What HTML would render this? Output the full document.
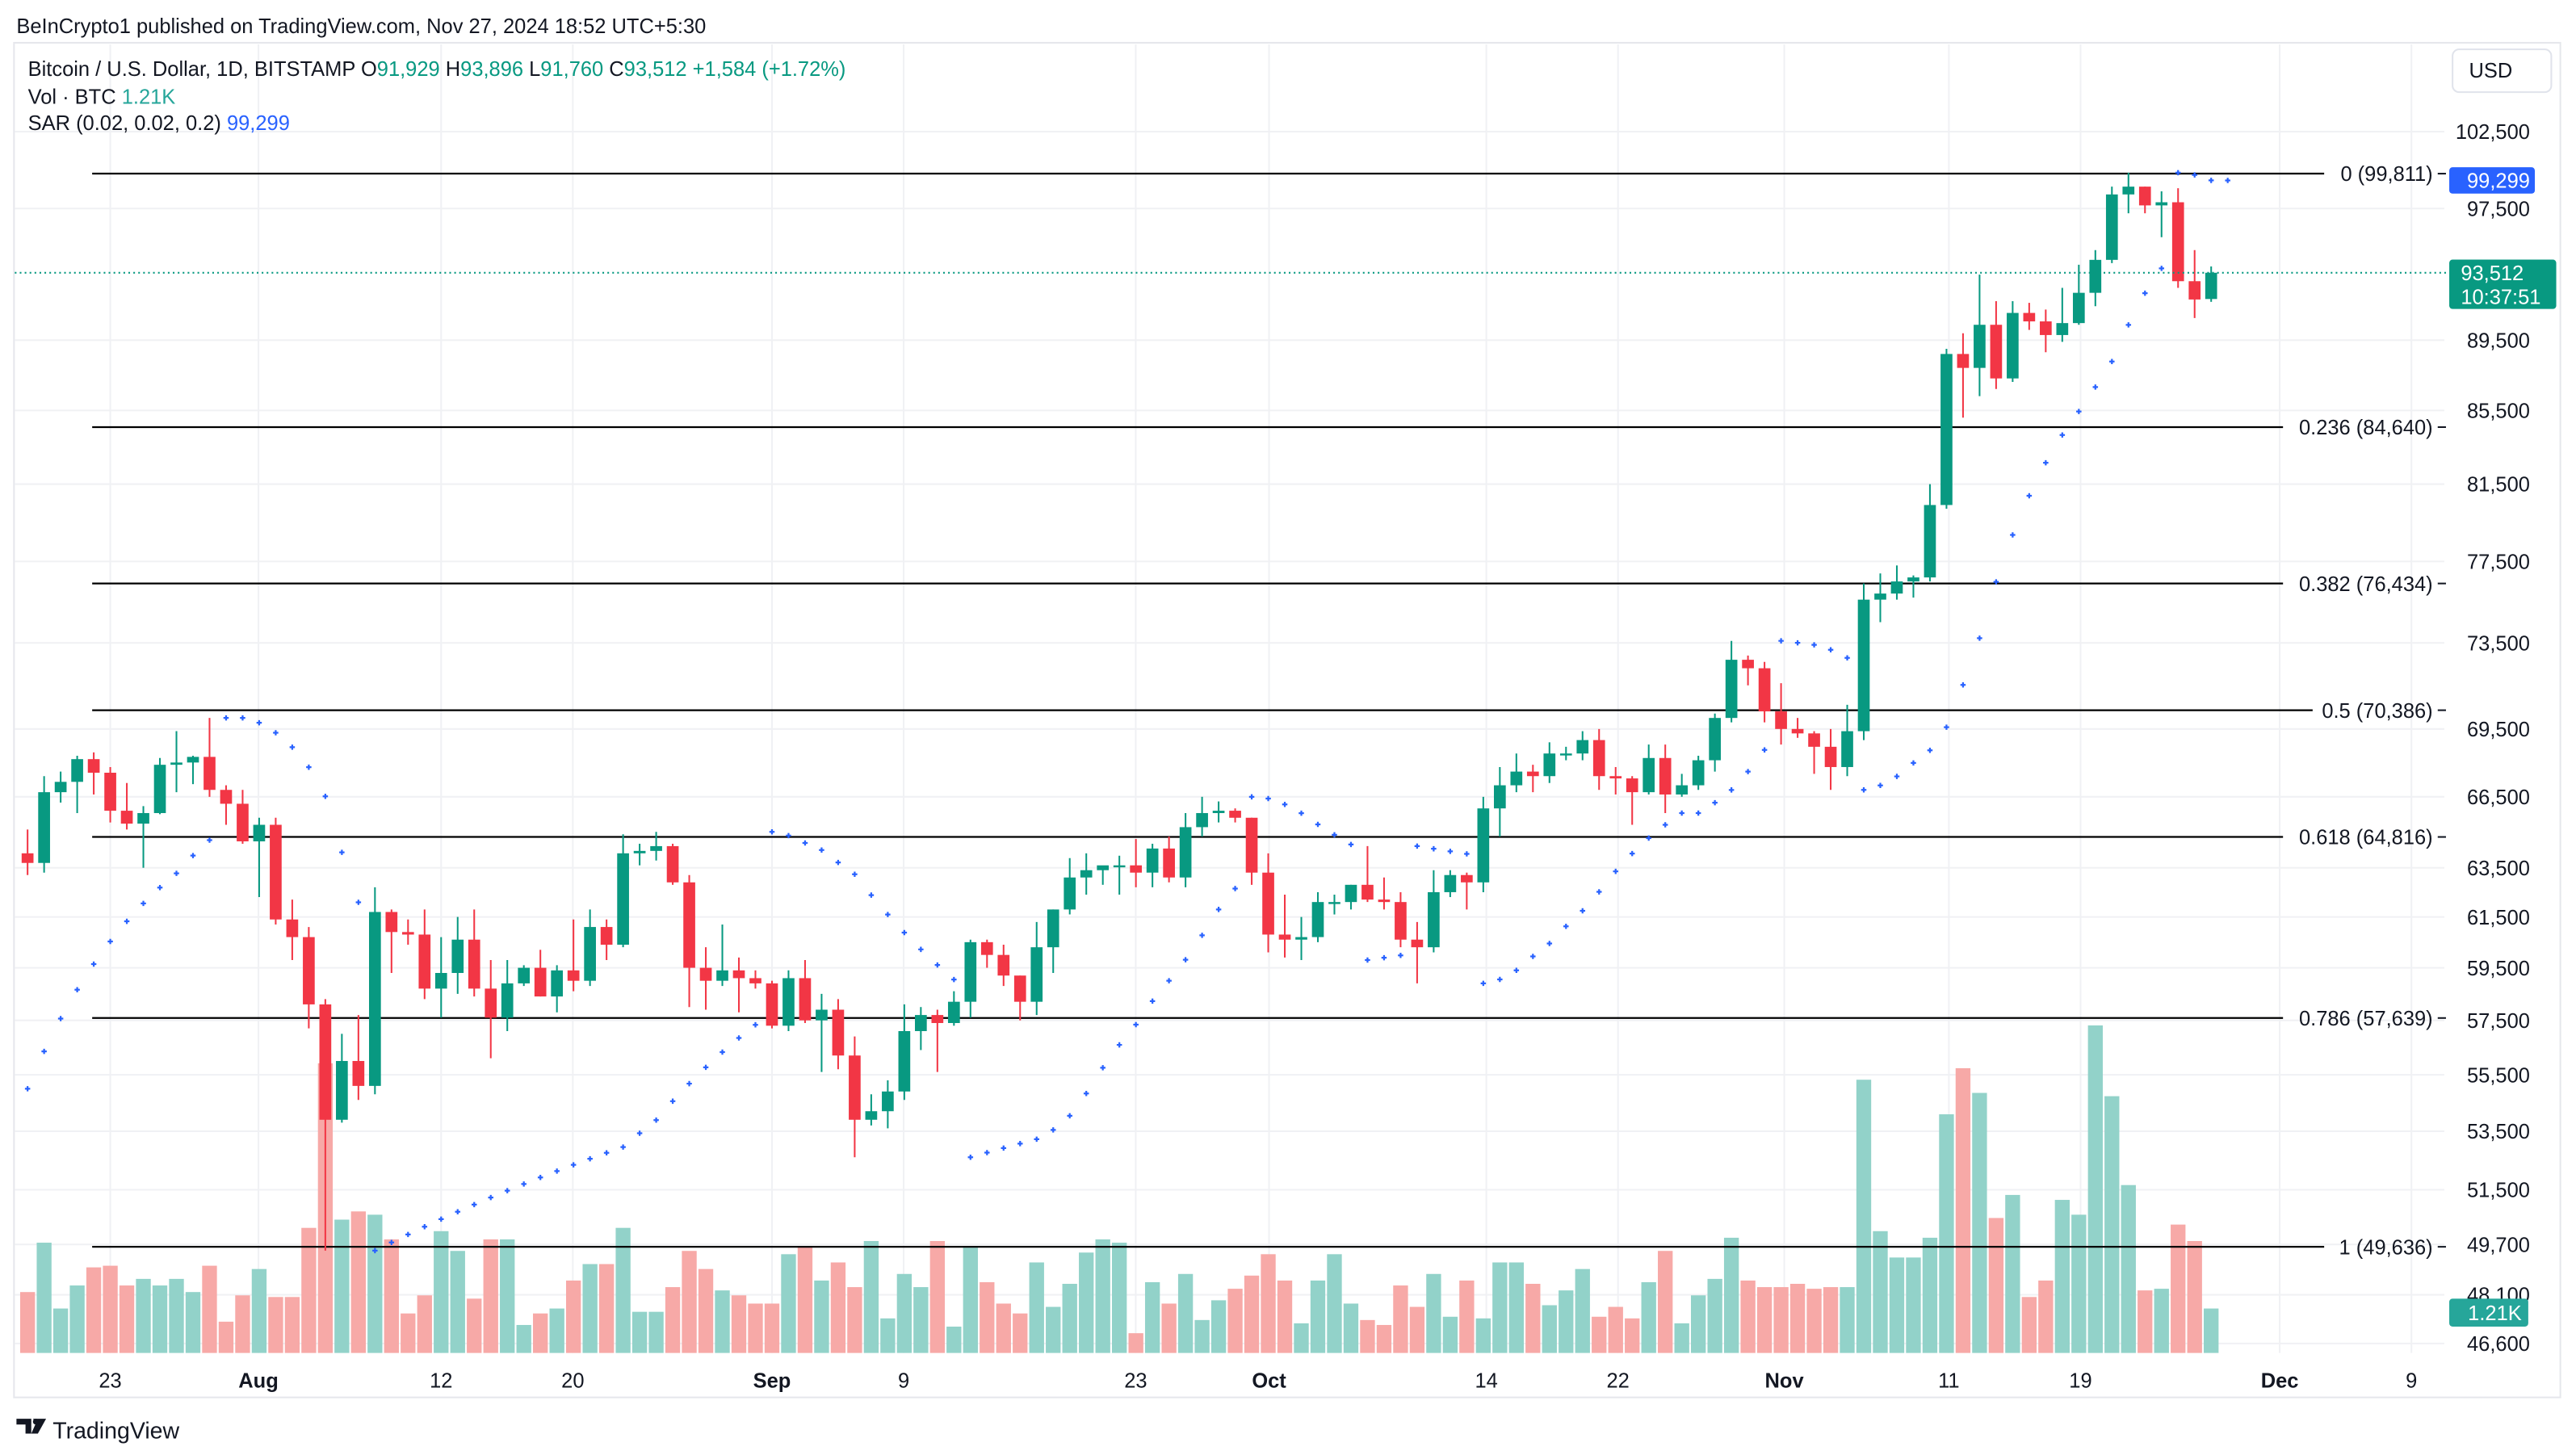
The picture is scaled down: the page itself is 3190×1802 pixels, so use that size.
<!DOCTYPE html>
<html><head><meta charset="utf-8">
<style>
html,body{margin:0;padding:0;background:#fff;}
svg{display:block;}
text{font-family:"Liberation Sans",sans-serif;}
</style></head>
<body>
<svg id="c" width="3190" height="1802" viewBox="0 0 1565 884" preserveAspectRatio="none" xmlns="http://www.w3.org/2000/svg">
<rect x="0" y="0" width="1565" height="884" fill="#fff"/>
<rect x="8.5" y="26" width="1547" height="823" fill="none" stroke="#e6e7ec" stroke-width="1"/>
<g id="grid"></g>
<g id="vol"></g>
<g id="fib"></g>
<g id="candles"></g>
<g id="sar"></g>
<g id="axis"></g>
<text x="10" y="20" font-size="12.5" fill="#131722">BeInCrypto1 published on TradingView.com, Nov 27, 2024 18:52 UTC+5:30</text>
<text x="17" y="46" font-size="12.5" fill="#131722">Bitcoin / U.S. Dollar, 1D, BITSTAMP  <tspan>O</tspan><tspan fill="#089981">91,929</tspan>  H<tspan fill="#089981">93,896</tspan>  L<tspan fill="#089981">91,760</tspan>  C<tspan fill="#089981">93,512</tspan>  <tspan fill="#089981">+1,584 (+1.72%)</tspan></text>
<text x="17" y="63" font-size="12.5" fill="#131722">Vol · BTC  <tspan fill="#26a69a">1.21K</tspan></text>
<text x="17" y="79" font-size="12.5" fill="#131722">SAR (0.02, 0.02, 0.2)  <tspan fill="#2962ff">99,299</tspan></text>
<rect x="1490" y="30" width="60" height="26" rx="4" fill="#fff" stroke="#e0e3eb"/>
<text x="1500" y="47" font-size="12.5" fill="#131722">USD</text>
<g transform="translate(10,862)">
<path d="M0 0h9v9h-3.5v-5.5h-5.5z M10 0h4l-1.5 2.5 M13 0h5l-5 9h-4z" fill="#131722"/>
<rect x="10" y="0" width="3.5" height="3.5" rx="1.7" fill="#131722"/>
</g>
<text x="32" y="874" font-size="14" fill="#131722">TradingView</text>
</svg>
<script>
const NS="http://www.w3.org/2000/svg";
function el(p,t,a,txt){const e=document.createElementNS(NS,t);for(const k in a)e.setAttribute(k,a[k]);if(txt!==undefined)e.textContent=txt;document.getElementById(p).appendChild(e);return e;}
const Y=p=>80+(Math.log(102500)-Math.log(p))*934;
const X=i=>67+(i-5)*10.05;
const d=[
[64100,65100,63200,63700],[63700,67400,63300,66700],[66700,67600,66250,67150],[67150,68300,65800,68150],[68150,68450,66600,67550],
[67550,67800,65400,65900],[65900,67100,65100,65350],[65350,66100,63500,65800],[65800,68200,65750,67900],[67900,69400,66700,68000],
[68000,68300,67050,68250],[68250,70000,66500,66800],[66800,67000,65300,66200],[66200,66800,64500,64600],
[64600,65600,62300,65300],[65300,65600,61200,61400],[61400,62200,59800,60700],[60700,61100,57200,58100],[58100,58300,49500,53900],
[53900,57000,53800,56000],[56000,57700,54600,55100],[55100,62700,54800,61700],[61700,61800,59300,60900],[60900,61400,60400,60800],
[60800,61800,58300,58700],[58700,60700,57600,59300],[59300,61500,58500,60600],[60600,61800,58400,58700],[58700,59800,56100,57600],
[57600,59800,57100,58900],[58900,59600,58800,59500],[59500,60200,58400,58400],[58400,59600,57800,59400],[59400,61400,58600,59000],
[59000,61800,58800,61100],[61100,61400,59800,60400],[60400,64900,60300,64100],[64100,64500,63600,64200],[64200,65000,63800,64400],
[64400,64500,62800,62900],[62900,63200,58000,59500],[59500,60300,57900,59000],[59000,61200,58800,59400],[59400,59900,57800,59100],
[59100,59400,58700,58900],
[58900,59000,57200,57300],[57300,59400,57100,59100],[59100,59800,57400,57500],[57500,58500,55600,57900],[57900,58300,55700,56200],
[56200,56900,52600,53900],[53900,54800,53700,54200],[54200,55300,53600,54900],[54900,58100,54600,57100],[57100,58000,56400,57700],
[57700,57900,55600,57400],[57400,58600,57300,58200],[58200,60600,57600,60500],[60500,60600,59500,60000],[60000,60400,58800,59200],
[59200,59200,57500,58200],[58200,61300,57700,60300],[60300,61800,59300,61800],[61800,63900,61600,63100],[63100,64100,62400,63400],
[63400,63500,62800,63600],[63600,64000,62400,63600],[63600,64700,62700,63300],[63300,64500,62700,64300],[64300,64800,62900,63100],
[63100,65800,62700,65200],[65200,66500,64800,65800],[65800,66300,65400,65900],[65900,66000,65400,65600],[65600,65600,62800,63300],
[63300,64100,60100,60800],[60800,62400,59900,60600],[60600,61500,59800,60700],[60700,62500,60500,62100],[62100,62400,61600,62100],
[62100,62800,61800,62800],[62800,64400,62100,62200],[62200,63100,61800,62100],[62100,62500,60300,60600],[60600,61300,58900,60300],
[60300,63400,60100,62500],[62500,63400,62300,63200],[63200,63300,61800,62900],[62900,66500,62500,66000],[66000,67800,64800,67000],
[67000,68400,66700,67600],[67600,67900,66700,67400],[67400,68900,67100,68400],[68400,68700,68100,68400],[68400,69400,68100,69000],
[69000,69500,66800,67400],[67400,67800,66600,67300],[67300,67400,65300,66700],[66700,68800,66600,68200],[68200,68800,65800,66600],
[66600,67500,66500,67000],[67000,68300,66800,68100],[68100,70200,67600,70000],[70000,73600,69800,72700],[72700,72900,71500,72300],
[72300,72600,69800,70300],
[70300,71600,68800,69500],[69500,70000,69100,69300],[69300,69400,67500,68700],[68700,69500,66800,67800],[67800,70600,67400,69400],
[69400,76400,69000,75600],[75600,76900,74500,75900],[75900,77300,75600,76500],[76500,76800,75700,76700],[76700,81500,76500,80400],
[80400,89000,80200,88700],[88700,89900,85100,87900],[87900,93400,86300,90400],[90400,91800,86700,87300],[87300,91800,87100,91100],
[91100,91700,90100,90600],[90600,91300,88800,89800],[89800,92600,89400,90500],[90500,94000,90400,92300],[92300,94900,91500,94300],
[94300,98900,94100,98400],[98400,99800,97200,98900],[98900,98900,97200,97700],[97700,98600,95700,97900],[97900,98800,92600,93000],
[93000,94900,90800,91900],[91929,93896,91760,93512]];
const vh=[37,67,27,41,52,53,41,45,41,45,37,53,19,35,
51,34,34,76,176,81,86,84,69,24,35,74,62,33,69,69,17,24,27,44,54,54,76,25,25,40,62,51,38,35,30,
30,60,65,44,55,40,68,21,48,40,68,16,64,43,30,24,55,28,42,61,69,67,12,43,30,48,20,32,39,47,
60,44,18,44,60,30,20,17,41,28,48,22,44,21,55,55,42,29,38,51,22,28,21,43,62,18,35,45,70,44,40,
40,42,39,40,40,166,74,58,58,70,145,173,158,82,96,34,44,93,84,199,156,102,38,39,78,68,27];
const ticks=[102500,97500,89500,85500,81500,77500,73500,69500,66500,63500,61500,59500,57500,55500,53500,51500,49700,48100,46600];
ticks.forEach(p=>{const y=Y(p);el("grid","line",{x1:9,x2:1485,y1:y,y2:y,stroke:"#f0f1f4","stroke-width":1});
 el("axis","text",{x:1537,y:y+4.5,"font-size":12.5,fill:"#131722","text-anchor":"end"},p.toLocaleString("en-US"));});
const tl=[[67,"23",0],[157,"Aug",1],[268,"12",0],[348,"20",0],[469,"Sep",1],[549,"9",0],[690,"23",0],[771,"Oct",1],[903,"14",0],[983,"22",0],[1084,"Nov",1],[1184,"11",0],[1264,"19",0],[1385,"Dec",1],[1465,"9",0]];
tl.forEach(t=>{el("grid","line",{x1:t[0],x2:t[0],y1:27,y2:822,stroke:"#f0f1f4","stroke-width":1});
 el("axis","text",{x:t[0],y:843,"font-size":12.5,fill:"#131722","text-anchor":"middle","font-weight":t[2]?"bold":"normal"},t[1]);});
d.forEach((c,i)=>{const up=c[3]>=c[0];const h=vh[i]||30;el("vol","rect",{x:X(i)-4.5,y:822-h,width:9,height:h,fill:up?"#92d2c9":"#f7a9a7"});});
const fib=[["0",99811,1412],["0.236",84640,1387],["0.382",76434,1387],["0.5",70386,1405],["0.618",64816,1387],["0.786",57639,1387],["1",49636,1412]];
fib.forEach(f=>{const y=Math.round(Y(f[1]))+0.5;el("fib","line",{x1:56,x2:f[2],y1:y,y2:y,stroke:"#000","stroke-width":1.1});
 el("fib","text",{x:1478,y:y+4.5,"font-size":12.5,fill:"#131722","text-anchor":"end"},f[0]+" ("+f[1].toLocaleString("en-US")+")");
 el("fib","line",{x1:1481,x2:1486,y1:y,y2:y,stroke:"#131722","stroke-width":1});});
d.forEach((c,i)=>{const up=c[3]>=c[0];const col=up?"#089981":"#f23645";const x=X(i);
 el("candles","line",{x1:x,x2:x,y1:Y(c[1]),y2:Y(c[2]),stroke:col,"stroke-width":1});
 const t=Y(Math.max(c[0],c[3])),b=Y(Math.min(c[0],c[3]));
 el("candles","rect",{x:x-3.6,y:t,width:7.2,height:Math.max(1.2,b-t),fill:col});});
(function(){let up=true,af=0.1,ep=68500,sar=55000;
 el("sar","path",{d:`M${X(0)-1.6} ${Y(sar)}h3.2M${X(0)} ${Y(sar)-1.6}v3.2`,stroke:"#2962ff","stroke-width":1.1});
 for(let i=1;i<d.length;i++){let ns=sar+af*(ep-sar);const h=d[i][1],l=d[i][2];
  if(up){ns=Math.min(ns,d[i-1][2],i>1?d[i-2][2]:d[i-1][2]);
   if(l<ns){up=false;ns=ep;ep=l;af=0.02;}else{if(h>ep){ep=h;af=Math.min(0.2,af+0.02);}}}
  else{ns=Math.max(ns,d[i-1][1],i>1?d[i-2][1]:d[i-1][1]);
   if(h>ns){up=true;ns=ep;ep=h;af=0.02;}else{if(l<ep){ep=l;af=Math.min(0.2,af+0.02);}}}
  sar=ns;const x=X(i),y=Y(sar);
  el("sar","path",{d:`M${x-1.6} ${y}h3.2M${x} ${y-1.6}v3.2`,stroke:"#2962ff","stroke-width":1.1});}
 const nx=X(d.length);el("sar","path",{d:`M${nx-1.6} ${Y(99299)}h3.2M${nx} ${Y(99299)-1.6}v3.2`,stroke:"#2962ff","stroke-width":1.1});
})();
const cy=Y(93512);
el("axis","line",{x1:9,x2:1488,y1:cy,y2:cy,stroke:"#089981","stroke-width":1,"stroke-dasharray":"1 2"});
el("axis","rect",{x:1488,y:Y(99299)-8,width:52,height:16,rx:2,fill:"#2962ff"});
el("axis","text",{x:1537,y:Y(99299)+4.5,"font-size":12.5,fill:"#fff","text-anchor":"end"},"99,299");
el("axis","rect",{x:1488,y:cy-8,width:65,height:30,rx:2,fill:"#089981"});
el("axis","text",{x:1495,y:cy+4.5,"font-size":12.5,fill:"#fff"},"93,512");
el("axis","text",{x:1495,y:cy+19,"font-size":12.5,fill:"#fff"},"10:37:51");
el("axis","rect",{x:1488,y:789,width:48,height:17,rx:2,fill:"#26a69a"});
el("axis","text",{x:1532,y:802,"font-size":12.5,fill:"#fff","text-anchor":"end"},"1.21K");
</script>
</body></html>
